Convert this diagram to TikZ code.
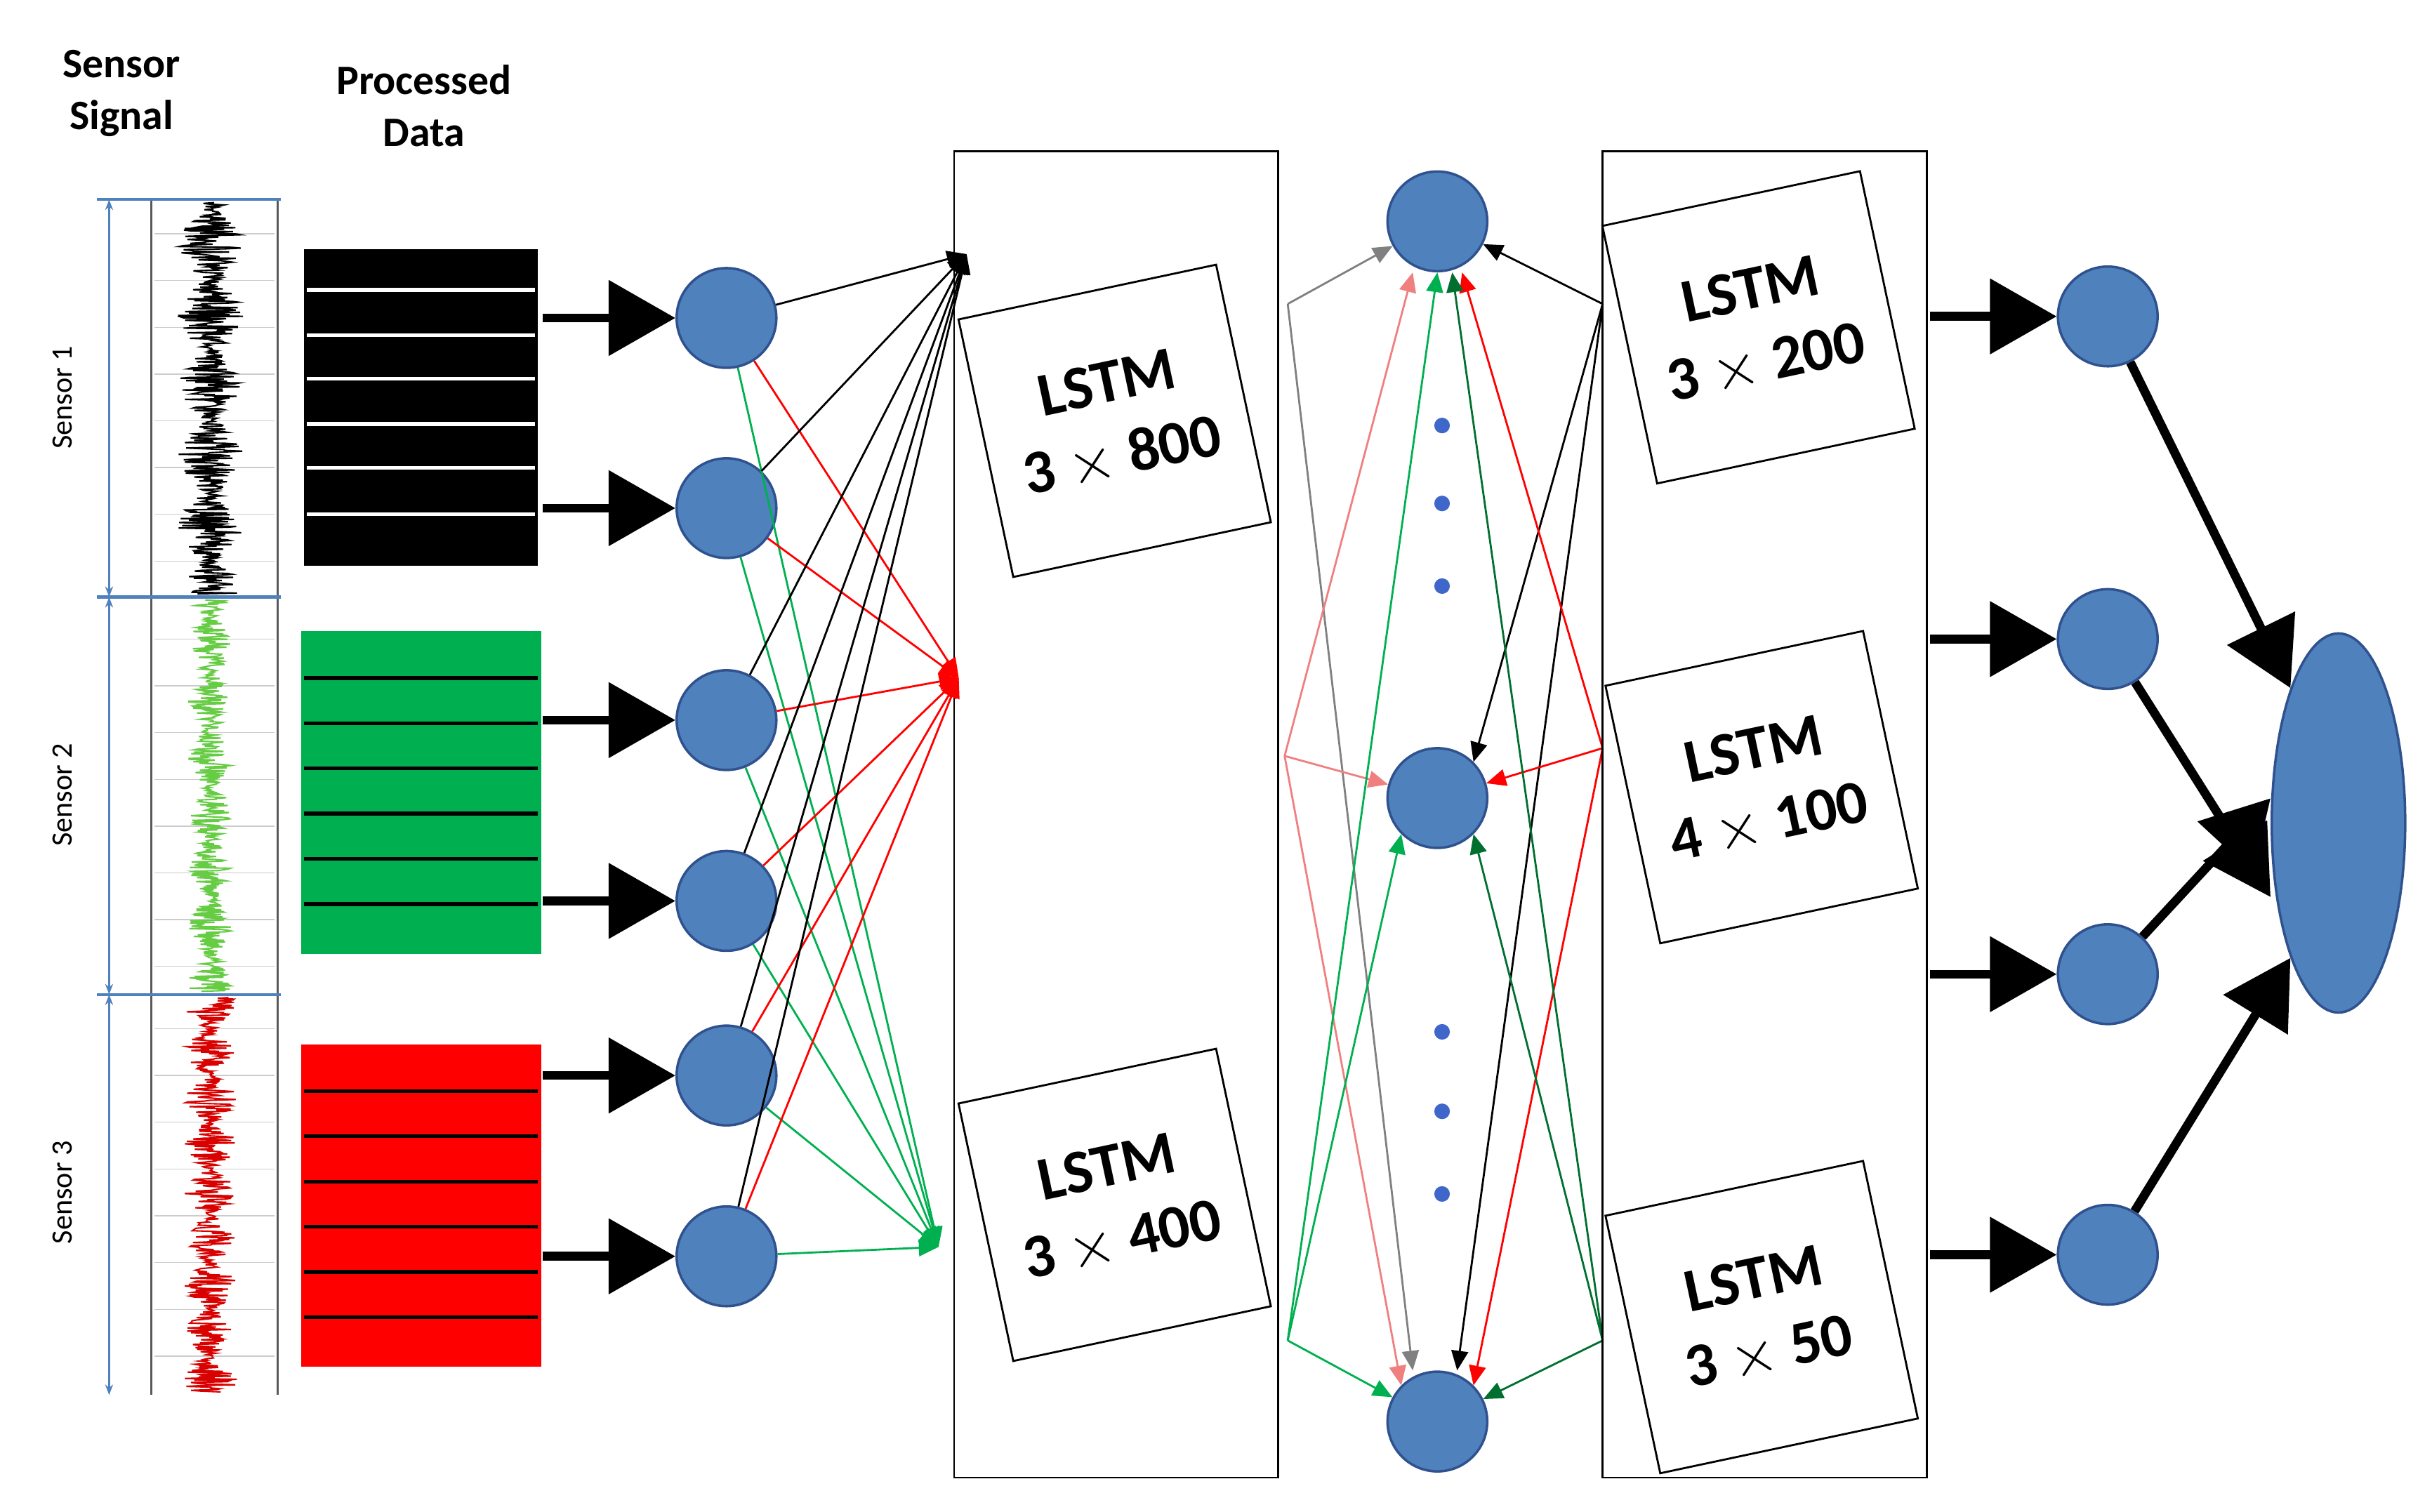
\documentclass[tikz,border=0pt]{standalone}
\usepackage{fontspec}
\setmainfont{Carlito}
\usetikzlibrary{arrows.meta,shapes.geometric}
\definecolor{cblue}{HTML}{4F81BD}
\definecolor{cdark}{HTML}{2F528F}
\definecolor{sgreen}{HTML}{00B050}
\definecolor{lgreen}{HTML}{66CC44}
\definecolor{dgreen}{HTML}{006F2F}
\definecolor{pinkc}{HTML}{F08080}
\begin{document}
\begin{tikzpicture}[x=0.0222cm,y=-0.0222cm,
  circ/.style={circle,fill=cblue,draw=cdark,line width=1pt,minimum size=1.42cm,inner sep=0},
  big/.style={line width=3.6pt,-{Triangle[length=0.95cm,width=1.05cm]}},
  thin/.style={line width=0.8pt,-{Triangle[length=0.28cm,width=0.24cm]}},
  lstm/.style={draw,fill=white,line width=0.8pt,minimum size=3.75cm,rotate=12,align=center,font=\bfseries\fontsize{25}{30}\selectfont},
  hdr/.style={align=center,font=\bfseries\fontsize{17}{21}\selectfont},
  slab/.style={rotate=90,font=\fontsize{12}{14}\selectfont}]
\useasboundingbox (0,0) rectangle (1560,970);
\pgfmathsetseed{7}
% headers
\node[hdr] (h1) at (78,60) {Sensor\\Signal};
\node[hdr] (h2) at (272,68) {Processed\\Data};
% sensor strip
\draw[gray!70!black,line width=1pt] (97,128) -- (97,895) (178,128) -- (178,895);
\foreach \yy in {128,383,638} \draw[cblue,line width=1.2pt] (62,\yy) -- (180,\yy);
\foreach \a/\b in {128/383,383/638,638/895}
  \draw[cblue,line width=0.8pt,{Stealth[length=0.15cm]}-{Stealth[length=0.15cm]}] (70,\a) -- (70,\b);
\foreach \yy in {150,180,210,240,270,300,330,360,410,440,470,500,530,560,590,620,660,690,720,750,780,810,840,870}
  \draw[gray!40,line width=0.4pt] (99,\yy) -- (176,\yy);
\draw[black,line width=0.6pt] plot[domain=130:381,samples=500,variable=\t] ({135+rand*(5+16*abs(sin(\t*4)))},\t);
\draw[lgreen,line width=0.6pt] plot[domain=385:636,samples=500,variable=\t] ({135+rand*(4+10*abs(sin(\t*5)))},\t);
\draw[red!85!black,line width=0.6pt] plot[domain=640:893,samples=500,variable=\t] ({135+rand*(3+14*abs(sin(\t*6)))},\t);
\node[slab] (s1) at (40,255) {Sensor 1};
\node[slab] (s2) at (40,510) {Sensor 2};
\node[slab] (s3) at (40,765) {Sensor 3};
% processed data
\fill[black] (195,160) rectangle (345,363);
\foreach \yy in {186,215,243,272,300,330} \draw[white,line width=1.5pt] (197,\yy) -- (343,\yy);
\fill[sgreen] (193,405) rectangle (347,612);
\foreach \yy in {435,464,493,522,551,580} \draw[black,line width=1.5pt] (195,\yy) -- (345,\yy);
\fill[red] (193,670) rectangle (347,877);
\foreach \yy in {700,729,758,787,816,845} \draw[black,line width=1.5pt] (195,\yy) -- (345,\yy);
% input circles
\foreach \n/\yy in {1/204,2/326,3/462,4/578,5/690,6/806} {
  \node[circ] (i\n) at (466,\yy) {};
  \coordinate (pa\n) at (348,\yy);
  \draw[big] (pa\n) -- (i\n);
}
% box 1
\draw[line width=0.8pt] (612,97) rectangle (820,948);
\coordinate (tb) at (620,163);
\coordinate (tr) at (615,435);
\coordinate (tg) at (602,800);
\foreach \n in {1,...,6} {
  \draw[thin,black] (i\n) -- (tb);
  \draw[thin,red] (i\n) -- (tr);
  \draw[thin,sgreen] (i\n) -- (tg);
}
\node[lstm] (l1) at (715,270) {LSTM\\3 $\times$ 800};
\node[lstm] (l2) at (715,773) {LSTM\\3 $\times$ 400};
% middle
\node[circ] (m1) at (922,142) {};
\node[circ] (m2) at (922,512) {};
\node[circ] (m3) at (922,912) {};
\foreach \yy in {273,323,376,662,713,766} \fill[cblue!80!blue] (925,\yy) circle (5);
\coordinate (la) at (826,195);
\coordinate (lb) at (824,485);
\coordinate (lc) at (826,860);
\coordinate (ra) at (1028,195);
\coordinate (rb) at (1028,480);
\coordinate (rc) at (1028,860);
\draw[thin,gray] (la) -- (m1);
\draw[thin,gray] (la) -- ([xshift=-10]m3.north);
\draw[thin,pinkc] (lb) -- ([xshift=-10]m1.south);
\draw[thin,pinkc] (lb) -- (m2);
\draw[thin,pinkc] (lb) -- (m3.north west);
\draw[thin,sgreen] (lc) -- (m1.south);
\draw[thin,sgreen] (lc) -- (m2.south west);
\draw[thin,sgreen] (lc) -- (m3);
\draw[thin,black] (ra) -- (m1);
\draw[thin,black] (ra) -- (m2.north east);
\draw[thin,black] (ra) -- ([xshift=8]m3.north);
\draw[thin,red] (rb) -- ([xshift=10]m1.south);
\draw[thin,red] (rb) -- (m2);
\draw[thin,red] (rb) -- (m3.north east);
\draw[thin,dgreen] (rc) -- ([xshift=6]m1.south);
\draw[thin,dgreen] (rc) -- (m2.south east);
\draw[thin,dgreen] (rc) -- (m3);
% box 2
\draw[line width=0.8pt] (1028,97) rectangle (1236,948);
\node[lstm] (l3) at (1128,210) {LSTM\\3 $\times$ 200};
\node[lstm] (l4) at (1130,505) {LSTM\\4 $\times$ 100};
\node[lstm] (l5) at (1130,845) {LSTM\\3 $\times$ 50};
% outputs
\node[ellipse,fill=cblue,draw=cdark,line width=1pt,minimum width=1.9cm,minimum height=5.4cm] (e) at (1500,528) {};
\foreach \n/\yy in {1/203,2/410,3/625,4/805} {
  \node[circ] (o\n) at (1352,\yy) {};
  \coordinate (pb\n) at (1238,\yy);
  \draw[big] (pb\n) -- (o\n);
}
\draw[big] (o1) -- (e.north west);
\draw[big] (o2) -- ([yshift=-30]e.west);
\draw[big] (o3) -- ([yshift=10]e.west);
\draw[big] (o4) -- (e.south west);
\end{tikzpicture}
\end{document}
